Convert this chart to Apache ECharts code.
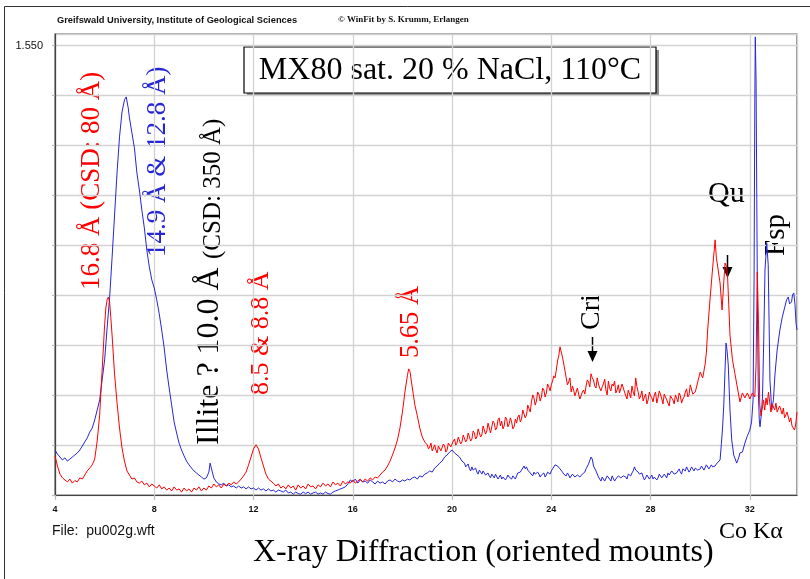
<!DOCTYPE html>
<html>
<head>
<meta charset="utf-8">
<script src="https://cdn.jsdelivr.net/npm/echarts@6/dist/echarts.min.js"></script>
<style>
html,body{margin:0;padding:0;background:#fff;}
#c{width:810px;height:579px;}
</style>
</head>
<body>
<div id="c"></div>
<script>
// ---- Data (2θ in degrees, intensity in chart units) ----
var redTheta = [4.0,4.1,4.2,4.3,4.4,4.5,4.6,4.7,4.8,4.9,5.0,5.1,5.2,5.3,5.4,5.5,5.6,5.7,5.8,5.9,6.0,6.05,6.1,6.15,6.2,6.25,6.3,6.4,6.5,6.6,6.7,6.8,6.9,7.0,7.1,7.2,7.3,7.4,7.5,7.6,7.7,7.8,7.9,8.0,8.1,8.2,8.3,8.4,8.5,8.6,8.7,8.8,8.9,9.0,9.1,9.2,9.3,9.4,9.5,9.6,9.7,9.8,9.9,10.0,10.1,10.2,10.3,10.4,10.5,10.6,10.7,10.8,10.9,11.0,11.1,11.2,11.3,11.4,11.5,11.6,11.7,11.8,11.9,12.0,12.1,12.15,12.2,12.3,12.4,12.5,12.6,12.7,12.8,12.9,13.0,13.1,13.2,13.3,13.4,13.5,13.6,13.7,13.8,13.9,14.0,14.1,14.2,14.3,14.4,14.5,14.6,14.7,14.8,14.9,15.0,15.1,15.2,15.3,15.4,15.5,15.6,15.7,15.8,15.9,16.0,16.1,16.2,16.3,16.4,16.5,16.6,16.7,16.8,16.9,17.0,17.1,17.2,17.3,17.4,17.5,17.6,17.7,17.8,17.9,18.0,18.1,18.2,18.25,18.3,18.4,18.5,18.6,18.7,18.8,18.9,19.0,19.1,19.2,19.3,19.4,19.5,19.6,19.7,19.8,19.9,20.0,20.1,20.2,20.3,20.4,20.5,20.6,20.7,20.8,20.9,21.0,21.1,21.2,21.3,21.4,21.5,21.6,21.7,21.8,21.9,22.0,22.1,22.2,22.3,22.4,22.5,22.6,22.7,22.8,22.9,23.0,23.1,23.2,23.3,23.4,23.5,23.6,23.7,23.8,23.9,24.0,24.1,24.2,24.3,24.35,24.4,24.5,24.6,24.7,24.8,24.9,25.0,25.1,25.2,25.3,25.4,25.5,25.6,25.7,25.8,25.9,26.0,26.1,26.2,26.3,26.4,26.5,26.6,26.7,26.8,26.9,27.0,27.1,27.2,27.3,27.4,27.5,27.6,27.7,27.8,27.9,28.0,28.1,28.2,28.3,28.4,28.5,28.6,28.7,28.8,28.9,29.0,29.1,29.2,29.3,29.4,29.5,29.6,29.7,29.8,29.9,30.0,30.1,30.2,30.25,30.3,30.4,30.5,30.6,30.65,30.7,30.8,30.88,30.95,31.0,31.05,31.1,31.15,31.2,31.3,31.4,31.5,31.6,31.7,31.8,31.9,32.0,32.1,32.2,32.25,32.3,32.35,32.4,32.45,32.5,32.55,32.6,32.65,32.7,32.75,32.8,32.85,32.9,33.0,33.05,33.1,33.2,33.3,33.35,33.4,33.5,33.6,33.65,33.7,33.8,33.85,33.9];
var redCounts = [0.135,0.100,0.072,0.059,0.052,0.045,0.055,0.041,0.050,0.045,0.059,0.055,0.069,0.083,0.093,0.104,0.124,0.186,0.276,0.431,0.587,0.645,0.673,0.683,0.666,0.611,0.552,0.417,0.318,0.231,0.162,0.117,0.083,0.069,0.055,0.059,0.045,0.041,0.048,0.035,0.041,0.028,0.038,0.031,0.024,0.035,0.021,0.028,0.017,0.024,0.014,0.028,0.017,0.021,0.010,0.024,0.014,0.021,0.010,0.024,0.017,0.028,0.014,0.024,0.017,0.031,0.024,0.038,0.028,0.035,0.024,0.038,0.031,0.041,0.035,0.045,0.038,0.045,0.055,0.066,0.079,0.104,0.131,0.159,0.173,0.179,0.159,0.128,0.100,0.072,0.055,0.048,0.041,0.031,0.038,0.024,0.031,0.021,0.035,0.024,0.031,0.017,0.035,0.024,0.031,0.021,0.038,0.028,0.031,0.021,0.035,0.028,0.041,0.031,0.038,0.028,0.045,0.035,0.041,0.031,0.048,0.038,0.045,0.041,0.052,0.041,0.048,0.055,0.045,0.055,0.048,0.059,0.052,0.062,0.059,0.069,0.079,0.086,0.100,0.117,0.138,0.162,0.190,0.231,0.286,0.355,0.411,0.435,0.428,0.369,0.311,0.273,0.231,0.200,0.183,0.173,0.166,0.152,0.173,0.145,0.166,0.148,0.169,0.155,0.183,0.162,0.193,0.179,0.197,0.183,0.204,0.190,0.210,0.193,0.214,0.200,0.224,0.207,0.235,0.221,0.242,0.217,0.248,0.231,0.266,0.255,0.238,0.262,0.245,0.252,0.235,0.248,0.276,0.262,0.290,0.276,0.304,0.321,0.335,0.324,0.348,0.338,0.362,0.352,0.373,0.380,0.411,0.431,0.480,0.511,0.493,0.452,0.404,0.390,0.355,0.362,0.338,0.348,0.331,0.362,0.376,0.390,0.418,0.397,0.369,0.383,0.359,0.383,0.362,0.393,0.359,0.376,0.352,0.380,0.348,0.369,0.342,0.362,0.335,0.355,0.404,0.355,0.342,0.324,0.348,0.328,0.342,0.321,0.355,0.335,0.348,0.314,0.338,0.317,0.342,0.328,0.345,0.321,0.342,0.331,0.355,0.338,0.380,0.348,0.355,0.390,0.424,0.404,0.452,0.493,0.569,0.680,0.783,0.880,0.818,0.790,0.731,0.638,0.735,0.800,0.790,0.759,0.656,0.552,0.466,0.418,0.369,0.321,0.352,0.335,0.352,0.331,0.352,0.338,0.449,0.769,0.587,0.311,0.273,0.300,0.328,0.293,0.335,0.311,0.355,0.321,0.286,0.314,0.293,0.317,0.286,0.307,0.279,0.300,0.266,0.286,0.252,0.266,0.238,0.224,0.245,0.286];
// intermediate readings of the noisy red background (between the points above)
var redThetaFine = [19.05,19.15,19.25,19.35,19.45,19.55,19.65,19.75,19.85,19.95,20.05,20.15,20.25,20.35,20.45,20.55,20.65,20.75,20.85,20.95,21.05,21.15,21.25,21.35,21.45,21.55,21.65,21.75,21.85,21.95,22.05,22.15,22.25,22.35,22.45,22.55,22.65,22.75,22.85,22.95,23.05,23.15,23.25,23.35,23.45,23.55,23.65,23.75,23.85,23.95,24.05,24.15,24.25,24.45,24.55,24.65,24.75,24.85,24.95,25.05,25.15,25.25,25.35,25.45,25.55,25.65,25.75,25.85,25.95,26.05,26.15,26.25,26.35,26.45,26.55,26.65,26.75,26.85,26.95,27.05,27.15,27.25,27.35,27.45,27.55,27.65,27.75,27.85,27.95,28.05,28.15,28.25,28.35,28.45,28.55,28.65,28.75,28.85,28.95,29.05,29.15,29.25,29.35,29.45,29.55];
var redCountsFine = [0.159,0.179,0.162,0.155,0.169,0.152,0.176,0.148,0.179,0.166,0.186,0.172,0.200,0.176,0.207,0.183,0.214,0.186,0.221,0.193,0.228,0.200,0.238,0.210,0.248,0.214,0.255,0.224,0.259,0.238,0.228,0.269,0.235,0.266,0.228,0.262,0.269,0.252,0.293,0.266,0.310,0.286,0.345,0.310,0.355,0.324,0.369,0.338,0.383,0.359,0.393,0.404,0.462,0.476,0.428,0.380,0.404,0.376,0.342,0.369,0.331,0.355,0.348,0.397,0.373,0.404,0.376,0.404,0.369,0.373,0.400,0.345,0.369,0.383,0.393,0.362,0.352,0.383,0.355,0.331,0.366,0.376,0.342,0.373,0.331,0.359,0.338,0.314,0.355,0.335,0.345,0.317,0.359,0.331,0.348,0.328,0.307,0.338,0.314,0.335,0.352,0.317,0.338,0.366,0.345];

var blueTheta = [4.0,4.1,4.2,4.3,4.4,4.5,4.6,4.7,4.8,4.9,5.0,5.1,5.2,5.3,5.4,5.5,5.6,5.7,5.8,5.9,6.0,6.1,6.2,6.3,6.4,6.5,6.6,6.7,6.8,6.87,6.95,7.0,7.1,7.2,7.3,7.4,7.5,7.6,7.7,7.8,7.9,8.0,8.1,8.2,8.3,8.4,8.5,8.6,8.7,8.8,8.9,9.0,9.1,9.2,9.3,9.4,9.5,9.6,9.7,9.8,9.9,10.0,10.1,10.2,10.25,10.3,10.4,10.5,10.6,10.7,10.8,10.9,11.0,11.1,11.2,11.3,11.4,11.5,11.6,11.7,11.8,11.9,12.0,12.1,12.2,12.3,12.4,12.5,12.6,12.7,12.8,12.9,13.0,13.1,13.2,13.3,13.4,13.5,13.6,13.7,13.8,13.9,14.0,14.1,14.2,14.3,14.4,14.5,14.6,14.7,14.8,14.9,15.0,15.1,15.2,15.3,15.4,15.5,15.6,15.7,15.8,15.9,16.0,16.1,16.2,16.3,16.4,16.5,16.6,16.7,16.8,16.9,17.0,17.1,17.2,17.3,17.4,17.5,17.6,17.7,17.8,17.9,18.0,18.1,18.2,18.3,18.4,18.5,18.6,18.7,18.8,18.9,19.0,19.1,19.2,19.3,19.4,19.5,19.6,19.7,19.8,19.9,20.0,20.1,20.2,20.3,20.4,20.5,20.6,20.7,20.8,20.9,21.0,21.1,21.2,21.3,21.4,21.5,21.6,21.7,21.8,21.9,22.0,22.1,22.2,22.3,22.4,22.5,22.6,22.7,22.8,22.9,23.0,23.1,23.2,23.3,23.4,23.5,23.6,23.7,23.8,23.9,24.0,24.1,24.2,24.3,24.4,24.5,24.6,24.7,24.8,24.9,25.0,25.1,25.2,25.3,25.4,25.5,25.6,25.65,25.7,25.8,25.9,26.0,26.1,26.2,26.3,26.4,26.5,26.6,26.7,26.8,26.9,27.0,27.1,27.2,27.3,27.35,27.4,27.5,27.6,27.7,27.8,27.9,28.0,28.1,28.2,28.3,28.4,28.5,28.6,28.7,28.8,28.9,29.0,29.1,29.2,29.3,29.4,29.5,29.6,29.7,29.8,29.9,30.0,30.1,30.2,30.3,30.4,30.5,30.6,30.7,30.8,30.85,30.9,30.95,31.0,31.04,31.08,31.13,31.2,31.27,31.35,31.47,31.55,31.6,31.7,31.8,31.9,32.0,32.07,32.13,32.17,32.2,32.22,32.25,32.28,32.31,32.34,32.38,32.41,32.46,32.51,32.56,32.61,32.68,32.74,32.78,32.81,32.88,32.95,33.01,33.1,33.21,33.3,33.41,33.48,33.55,33.6,33.68,33.72,33.77,33.82,33.86,33.9];
var blueCounts = [0.155,0.141,0.131,0.121,0.128,0.117,0.124,0.131,0.138,0.145,0.155,0.169,0.183,0.197,0.217,0.231,0.259,0.293,0.328,0.397,0.466,0.576,0.680,0.818,0.966,1.111,1.235,1.321,1.363,1.373,1.335,1.301,1.249,1.197,1.111,1.052,0.983,0.921,0.845,0.787,0.742,0.714,0.673,0.625,0.569,0.507,0.431,0.369,0.311,0.252,0.214,0.179,0.155,0.135,0.117,0.104,0.093,0.083,0.076,0.069,0.062,0.055,0.059,0.079,0.110,0.093,0.059,0.045,0.038,0.035,0.041,0.031,0.035,0.028,0.031,0.024,0.031,0.024,0.028,0.021,0.028,0.021,0.024,0.017,0.024,0.017,0.021,0.014,0.021,0.014,0.017,0.010,0.017,0.014,0.010,0.017,0.007,0.010,0.003,0.010,0.005,0.003,0.010,0.005,0.010,0.003,0.007,0.010,0.003,0.007,0.003,0.010,0.005,0.003,0.010,0.014,0.017,0.021,0.024,0.028,0.038,0.052,0.045,0.055,0.041,0.052,0.045,0.048,0.041,0.052,0.045,0.038,0.048,0.041,0.045,0.038,0.048,0.052,0.045,0.055,0.048,0.045,0.052,0.048,0.055,0.052,0.059,0.062,0.055,0.066,0.062,0.072,0.076,0.083,0.079,0.093,0.100,0.110,0.117,0.131,0.138,0.148,0.155,0.145,0.138,0.131,0.117,0.110,0.100,0.090,0.097,0.083,0.079,0.086,0.072,0.079,0.069,0.066,0.072,0.059,0.066,0.062,0.055,0.066,0.059,0.062,0.055,0.062,0.066,0.072,0.086,0.100,0.097,0.083,0.072,0.079,0.066,0.072,0.069,0.076,0.069,0.079,0.083,0.093,0.110,0.097,0.086,0.072,0.066,0.069,0.062,0.069,0.066,0.072,0.066,0.076,0.090,0.107,0.131,0.124,0.100,0.083,0.062,0.048,0.059,0.052,0.062,0.048,0.062,0.055,0.066,0.059,0.066,0.062,0.072,0.066,0.083,0.097,0.086,0.079,0.069,0.062,0.059,0.066,0.062,0.055,0.066,0.059,0.069,0.062,0.066,0.076,0.072,0.079,0.069,0.083,0.079,0.090,0.083,0.093,0.086,0.090,0.093,0.086,0.090,0.097,0.090,0.100,0.093,0.097,0.100,0.104,0.121,0.173,0.231,0.311,0.431,0.524,0.500,0.449,0.293,0.190,0.138,0.110,0.128,0.145,0.148,0.179,0.204,0.224,0.252,0.328,0.742,1.363,1.580,1.432,1.018,0.604,0.362,0.259,0.235,0.276,0.338,0.535,0.776,0.869,0.794,0.569,0.397,0.293,0.328,0.414,0.500,0.569,0.611,0.649,0.673,0.683,0.659,0.666,0.690,0.697,0.656,0.593,0.569];
// intermediate readings of the noisy blue background
var blueThetaFine = [20.55,20.65,20.75,20.85,20.95,21.05,21.15,21.25,21.35,21.45,21.55,21.65,21.75,21.85,21.95,22.05,22.15,22.25,22.35,22.45,22.55,22.65,22.75,22.85,22.95,23.05,23.15,23.25,23.35,23.45,23.55,23.65,23.75,23.85,23.95,24.05,24.15,24.25,24.35,24.45,24.55,24.65,24.75,24.85,24.95,25.05,25.15,25.25,25.35,25.95,26.05,26.15,26.25,26.35,26.45,26.55,26.65,26.75,26.85,26.95,27.05,27.15,27.25,27.45,27.55,27.65,27.75,27.85,27.95,28.05,28.15,28.25,28.35,28.45,28.55,28.65,28.75,28.85,28.95,29.05,29.15,29.25,29.35,29.45,29.55,29.65,29.75,29.85,29.95,30.05,30.15,30.25,30.35,30.45,30.55,30.65];
var blueCountsFine = [0.097,0.107,0.083,0.086,0.093,0.072,0.079,0.083,0.069,0.076,0.059,0.069,0.072,0.055,0.069,0.062,0.052,0.069,0.062,0.066,0.055,0.076,0.079,0.093,0.090,0.086,0.076,0.066,0.072,0.079,0.062,0.069,0.062,0.079,0.072,0.090,0.104,0.100,0.090,0.079,0.066,0.076,0.059,0.072,0.062,0.069,0.062,0.072,0.079,0.055,0.062,0.048,0.066,0.055,0.066,0.048,0.059,0.069,0.055,0.072,0.055,0.069,0.076,0.090,0.072,0.076,0.052,0.069,0.055,0.069,0.062,0.052,0.072,0.059,0.072,0.059,0.069,0.083,0.072,0.076,0.090,0.072,0.086,0.097,0.079,0.097,0.083,0.097,0.083,0.100,0.086,0.104,0.090,0.104,0.093,0.107];

var xTicks = [4, 8, 12, 16, 20, 24, 28, 32];
var yLabelValue = 1.55;          // only labelled grid line
var yLabelText = '1.550';

var titleText = 'MX80 sat. 20 % NaCl, 110°C';
var headerLeft = 'Greifswald University, Institute of Geological Sciences';
var headerRight = '© WinFit by S. Krumm, Erlangen';
var fileText = 'File:  pu002g.wft';
var xTitle = 'X-ray Diffraction (oriented mounts)';
var radiation = 'Co Kα';

function merge(t1, c1, t2, c2) {
  var pts = t1.map(function (v, i) { return [v, c1[i]]; })
    .concat(t2.map(function (v, i) { return [v, c2[i]]; }));
  pts.sort(function (a, b) { return a[0] - b[0]; });
  return pts;
}

var SERIF = '"Liberation Serif","Times New Roman",serif';
var SANS = '"Liberation Sans",Arial,sans-serif';
var RED = '#ff0000', BLUE = '#2626d9';

function vText(txt, x, y, size, color) {
  return {
    type: 'text', x: x, y: y, rotation: Math.PI / 2, silent: true,
    style: { text: txt, fill: color, font: size + 'px ' + SERIF,
      align: 'left', verticalAlign: 'middle', textAlign: 'left', textVerticalAlign: 'middle' }
  };
}
function hText(txt, x, y, font, color, align) {
  return {
    type: 'text', x: x, y: y, silent: true,
    style: { text: txt, fill: color || '#000', font: font,
      align: align || 'left', verticalAlign: 'middle', textAlign: align || 'left', textVerticalAlign: 'middle' }
  };
}
function arrow(x, y0, y1) {
  return [
    { type: 'line', silent: true, shape: { x1: x, y1: y0, x2: x, y2: y1 - 9 }, style: { stroke: '#000', lineWidth: 1.5 } },
    { type: 'polygon', silent: true, shape: { points: [[x - 5, y1 - 11], [x + 5, y1 - 11], [x, y1]] }, style: { fill: '#000' } }
  ];
}

var chart = echarts.init(document.getElementById('c'), null, { renderer: 'canvas' });

var graphics = [
  // outer frame
  { type: 'polyline', silent: true, shape: { points: [[4.5, 579], [4.5, 6.5], [810, 6.5]] }, style: { stroke: '#333', lineWidth: 1, fill: null } },
  hText(headerLeft, 57, 20, 'bold 9.3px ' + SANS, '#111'),
  hText(headerRight, 338, 20, 'bold 9px ' + SERIF, '#111'),
  // title box with shadow
  { type: 'rect', silent: true, shape: { x: 247, y: 50, width: 412, height: 46 }, style: { fill: '#8a8a8a' } },
  { type: 'rect', silent: true, shape: { x: 244, y: 47, width: 412, height: 46 }, style: { fill: '#fff', stroke: '#000', lineWidth: 1.2 } },
  hText(titleText, 450, 71, '32px ' + SERIF, '#000', 'center'),
  // peak annotations
  vText('16.8 Å (CSD: 80 Å)', 92, 290, 27, RED),
  vText('14.9 Å & 12.8 Å)', 158, 257, 27, BLUE),
  vText('Illite ? 10.0 Å', 210, 445, 32, '#000'),
  vText('(CSD: 350 Å)', 213, 259, 25, '#000'),
  vText('8.5 & 8.8 Å', 261, 395, 26, RED),
  vText('5.65 Å', 411, 358, 26.5, RED),
  vText('Cri', 592, 330, 28, '#000'),
  vText('Fsp', 776, 256, 29, '#000'),
  hText('Qu', 708, 194, '30px ' + SERIF, '#000'),
  // bottom texts
  hText(fileText, 52, 531, '14px ' + SANS, '#111'),
  hText(radiation, 719, 532, '24px ' + SERIF, '#000'),
  hText(xTitle, 253, 553, '32px ' + SERIF, '#000')
].concat(arrow(592.5, 337, 362)).concat(arrow(727.5, 255, 278));

var option = {
  animation: false,
  backgroundColor: '#fff',
  grid: { left: 55, right: 13, top: 34, bottom: 84, show: true, borderColor: '#555', borderWidth: 1.2, backgroundColor: 'transparent' },
  xAxis: {
    type: 'value', min: 4, max: 33.9, interval: 4,
    axisLine: { show: true, lineStyle: { color: '#444', width: 1.2 } },
    axisTick: { show: true, length: 5, lineStyle: { color: '#bbb', width: 1.2 } },
    axisLabel: { show: true, margin: 10, color: '#111', fontSize: 9, fontWeight: 'bold', fontFamily: SANS, showMaxLabel: false,
      formatter: function (v) { return xTicks.indexOf(Math.round(v)) >= 0 && Math.abs(v - Math.round(v)) < 1e-6 ? String(Math.round(v)) : ''; } },
    splitLine: { show: true, lineStyle: { color: '#d2d2d2', width: 1.3 } }
  },
  yAxis: {
    type: 'value', min: 0, max: 1.59, interval: yLabelValue / 9,
    axisLine: { show: true, lineStyle: { color: '#444', width: 1.2 } },
    axisTick: { show: true, length: 3, lineStyle: { color: '#bbb', width: 1.2 } },
    axisLabel: { show: true, margin: 12, color: '#111', fontSize: 11, fontFamily: SANS, showMaxLabel: false,
      formatter: function (v) { return Math.abs(v - yLabelValue) < 0.005 ? yLabelText : ''; } },
    splitLine: { show: true, lineStyle: { color: '#d2d2d2', width: 1.3 } }
  },
  series: [
    { type: 'line', data: merge(blueTheta, blueCounts, blueThetaFine, blueCountsFine), showSymbol: false, symbol: 'none', smooth: false,
      lineStyle: { color: BLUE, width: 1 }, z: 2, clip: true },
    { type: 'line', data: merge(redTheta, redCounts, redThetaFine, redCountsFine), showSymbol: false, symbol: 'none', smooth: false,
      lineStyle: { color: RED, width: 1 }, z: 3, clip: true }
  ],
  graphic: { elements: graphics }
};
chart.setOption(option);
</script>
</body>
</html>
